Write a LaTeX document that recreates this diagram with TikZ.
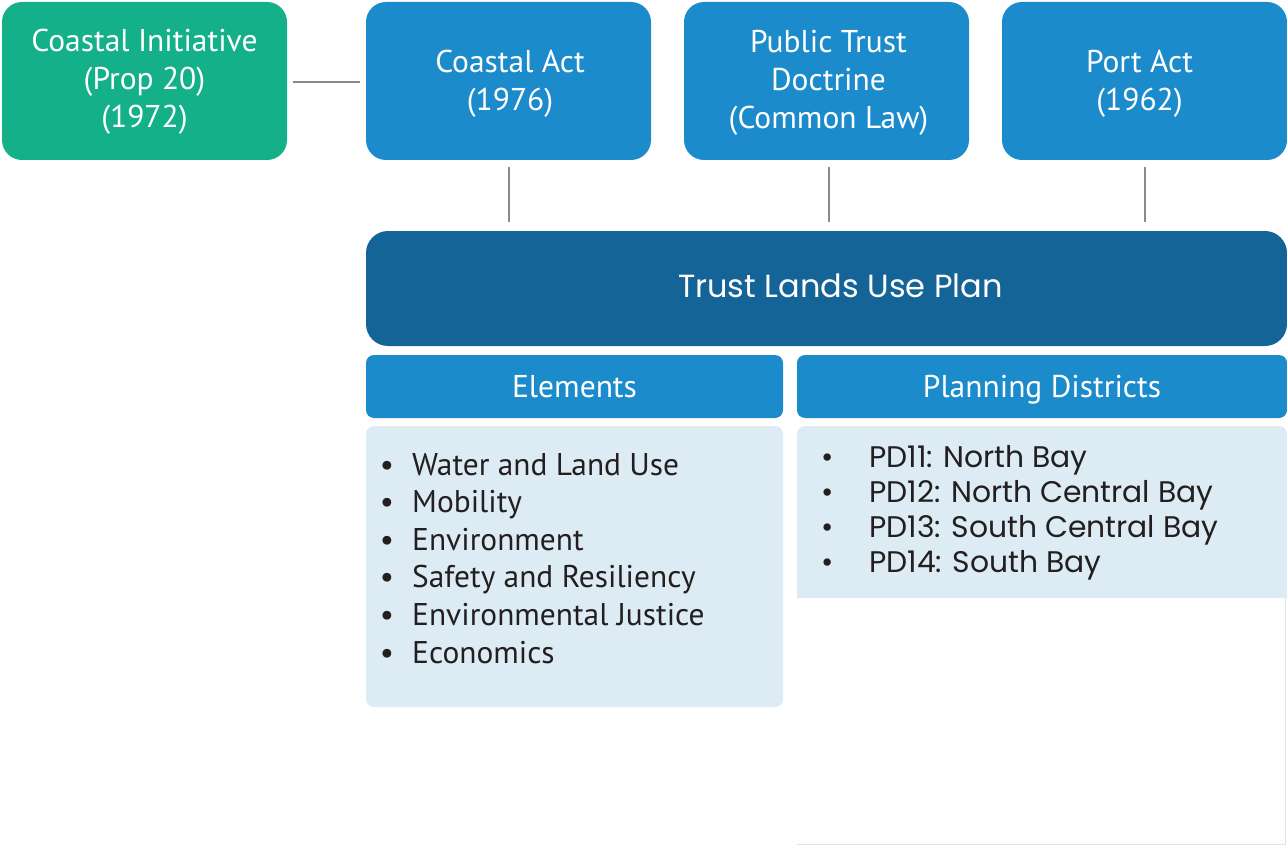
\documentclass[tikz,border=0pt]{standalone}
\usepackage{fontspec}
\setmainfont{PT Sans}
\newfontfamily\geo{Poppins}
\definecolor{cgreen}{RGB}{20,176,138}
\definecolor{cblue}{RGB}{27,139,203}
\definecolor{cdark}{RGB}{21,100,152}
\definecolor{clight}{RGB}{221,235,245}
\definecolor{cframe}{RGB}{214,230,242}
\definecolor{cline}{RGB}{138,138,138}
\definecolor{ctext}{RGB}{35,31,32}
\tikzset{
  topbox/.style={rounded corners=20pt, minimum width=285pt, minimum height=158pt, inner sep=0pt},
  toptext/.style={text=white, align=center, inner sep=0pt, font=\fontsize{31.5}{38}\selectfont},
  headbox/.style={fill=cblue, rounded corners=8pt, minimum height=63pt, inner sep=0pt,
     text=white, text height=22pt, text depth=0pt, font=\fontsize{31.5}{36}\selectfont},
  conn/.style={draw=cline, line width=2pt},
  elitem/.style={anchor=base west, inner sep=0pt, text=ctext, font=\fontsize{31.4}{36}\selectfont},
  pditem/.style={anchor=base west, inner sep=0pt, text=ctext, font=\geo\fontsize{29.8}{30}\selectfont},
}
\begin{document}
\begin{tikzpicture}[x=1pt,y=-1pt]
\useasboundingbox (0,0) rectangle (1287,845);
% top boxes
\node[topbox, fill=cgreen] (ci) at (144.5,81) {};
\node[topbox, fill=cblue] (ca) at (508.5,81) {};
\node[topbox, fill=cblue] (ptd) at (826.5,81) {};
\node[topbox, fill=cblue] (pa) at (1144.5,81) {};
\node[toptext, anchor=base] (cit) at (144.5,128) {Coastal Initiative\\(Prop 20)\\(1972)};
\node[toptext, anchor=base] (cat) at (510,111) {Coastal Act\\(1976)};
\node[toptext, anchor=base] (ptdt) at (828.5,129) {Public Trust\\Doctrine\\(Common Law)};
\node[toptext, anchor=base] (pat) at (1139.5,111) {Port Act\\(1962)};
% plan
\node[fill=cdark, rounded corners=22pt, minimum width=921pt, minimum height=115pt, inner sep=0pt] (tlup) at (826.5,288.5) {};
\node[text=white, inner sep=0pt, anchor=base, font=\geo\fontsize{32}{34}\selectfont] (tlupt) at (840.5,297) {Trust Lands Use Plan};
% headers
\node[headbox, minimum width=417pt] (el) at (574.5,386.5) {Elements};
\node[headbox, minimum width=490pt] (pdh) at (1042,386.5) {Planning Districts};
% bodies
\node[fill=clight, rounded corners=8pt, minimum width=417pt, minimum height=281pt, inner sep=0pt] (elb) at (574.5,566.5) {};
\coordinate (pdtl) at (797,426);
\coordinate (pdbr) at (1287,598);
\fill[clight] (pdtl |- pdbr) [rounded corners=8pt] -- (pdtl) -- (pdtl -| pdbr) [sharp corners] -- (pdbr) -- cycle;
\coordinate (frbr) at (1285.5,844);
\draw[cframe, line width=1pt] (frbr |- pdbr) -- (frbr) -- (797,844);
% connectors
\coordinate (h1) at (293,82);
\coordinate (h2) at (360,82);
\draw[conn] (h1) -- (h2);
\draw[conn, shorten <=7pt, shorten >=9pt] (ca.south) -- (ca.south |- tlup.north);
\draw[conn, shorten <=7pt, shorten >=9pt] (ptd.south -| 829,0) -- (829,231);
\draw[conn, shorten <=7pt, shorten >=9pt] (pa.south) -- (pa.south |- tlup.north);
% element items
\foreach \t [count=\i] in {Water and Land Use, Mobility, Environment, Safety and Resiliency, Environmental Justice, Economics}{
  \node[elitem] (e\i) at (412,{475+37.6*(\i-1)}) {\t};
  \node[elitem, anchor=base] (eb\i) at (387,{475+37.6*(\i-1)}) {\textbullet};
}
\foreach \t [count=\i] in {PD11: North Bay, PD12: North Central Bay, PD13: South Central Bay, PD14: South Bay}{
  \node[pditem] (p\i) at (869,{467+35.3*(\i-1)}) {\t};
  \node[pditem, anchor=base] (pb\i) at (828,{467+35.3*(\i-1)}) {\textbullet};
}
\end{tikzpicture}
\end{document}
